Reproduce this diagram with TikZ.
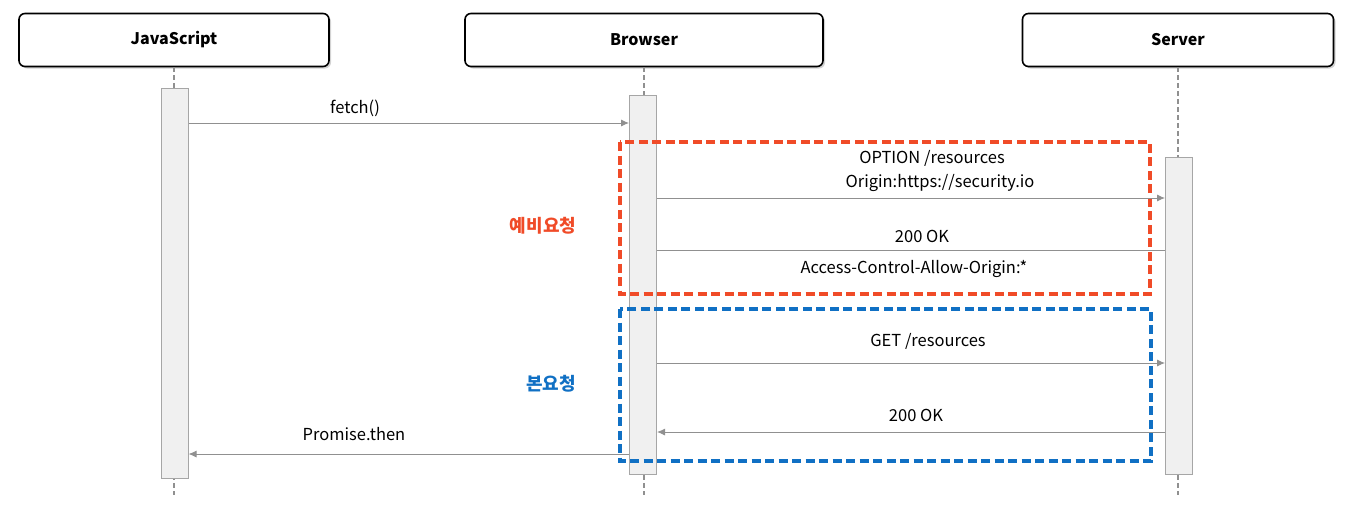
\documentclass[tikz,border=0pt]{standalone}
\usepackage{fontspec}
\setmainfont{Noto Sans CJK KR}
\usepackage{tikz}
\usepackage{xcolor}
\usetikzlibrary{shadows, arrows.meta}

\definecolor{prered}{HTML}{F04B28}
\definecolor{mainblue}{HTML}{1070C4}
\definecolor{linegray}{HTML}{909090}
\definecolor{actfill}{HTML}{F0F0F0}

\begin{document}
\begin{tikzpicture}[x=1pt, y=-1pt,
    every node/.style={font=\fontsize{16.5}{19}\selectfont, inner sep=0pt},
    actor/.style={draw, line width=1.6pt, rounded corners=6pt, fill=white, minimum width=310pt, minimum height=53pt, font=\fontsize{16}{19}\selectfont\bfseries, drop shadow={shadow xshift=2pt, shadow yshift=-2pt, opacity=0.35}},
    life/.style={draw=linegray, line width=1.8pt, dash pattern=on 5pt off 3pt},
    act/.style={draw=linegray!80, line width=1pt, fill=actfill, minimum width=27pt},
    msg/.style={draw=linegray, line width=0.9pt, -{Latex[length=8pt, width=7pt]}},
    ret/.style={draw=linegray, line width=0.9pt},
    frame/.style={line width=3.2pt, dash pattern=on 9pt off 4.5pt}]
    \useasboundingbox (0,0) rectangle (1347,512);

    % participants
    \node[actor] (js) at (174,40) {JavaScript};
    \node[actor, minimum width=358pt] (br) at (644,40) {Browser};
    \node[actor, minimum width=311pt] (sv) at (1178,40) {Server};

    \draw[life] (js.south) -- (js.south |- 0,495);
    \draw[life] (br.south) -- (br.south |- 0,495);
    \draw[life] (sv.south) -- (sv.south |- 0,495);

    % activations
    \node[act, minimum height=390pt] (jsact) at (174.5,283) {};
    \node[act, minimum height=379pt] (bract) at (643,284.5) {};
    \node[act, minimum height=317pt] (svact) at (1179,315.5) {};

    % preflight
    \draw[frame, prered] (620,142) rectangle (1150,294);
    \node[font=\fontsize{18}{21}\selectfont\bfseries, text=prered] (pretxt) at (543,226) {예비요청};

    % main request
    \draw[frame, mainblue] (620,309) rectangle (1151,461);
    \node[font=\fontsize{18}{21}\selectfont\bfseries, text=mainblue] (maintxt) at (551,384) {본요청};

    % messages
    \draw[msg] (jsact.east |- 0,123) -- (bract.west |- 0,123);
    \node (fetch) at (355,108) {fetch()};
    \draw[msg] (bract.east |- 0,198) -- (svact.west |- 0,198);
    \node (opt) at (932,158) {OPTION /resources};
    \node (orig) at (940,183) {Origin:https://security.io};
    \draw[ret] (svact.west |- 0,250) -- (bract.east |- 0,250);
    \node (ok1) at (922,236) {200 OK};
    \node (acao) at (914,269) {Access-Control-Allow-Origin:*};
    \draw[msg] (bract.east |- 0,363) -- (svact.west |- 0,363);
    \node (get) at (928,341) {GET /resources};
    \draw[msg] (svact.west |- 0,432) -- (bract.east |- 0,432);
    \node (ok2) at (916,415) {200 OK};
    \draw[msg] (bract.west |- 0,454) -- (jsact.east |- 0,454);
    \node (prom) at (354,434) {Promise.then};
\end{tikzpicture}
\end{document}
